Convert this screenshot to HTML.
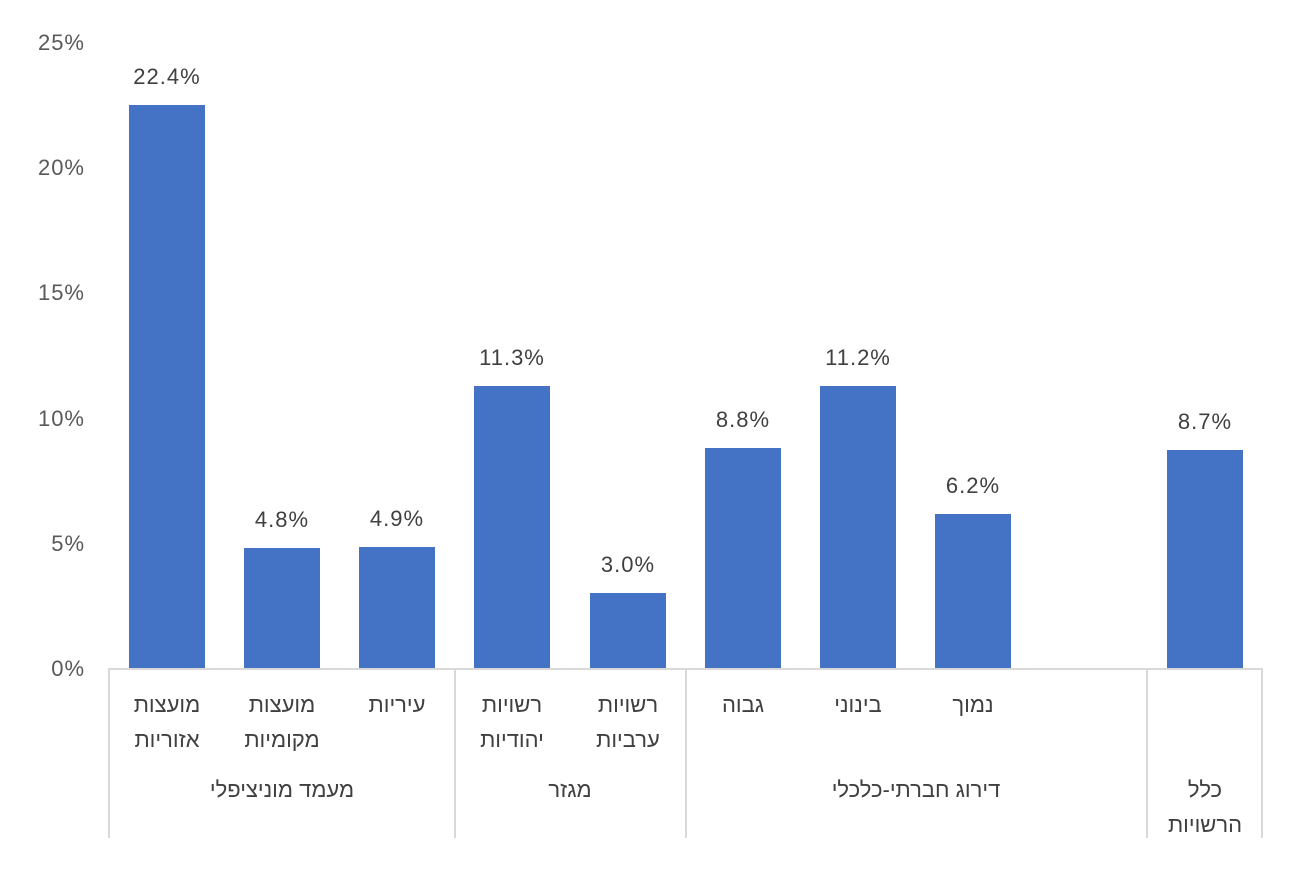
<!DOCTYPE html>
<html><head><meta charset="utf-8"><style>
body{margin:0;background:#fff;}
svg text{font-family:"Liberation Sans","DejaVu Sans",sans-serif;fill:#404040;font-size:22px;}
.n{letter-spacing:1px;}
.t{fill:#595959;}
</style></head><body>
<svg width="1290" height="871" xmlns="http://www.w3.org/2000/svg">
<g text-anchor="end">
<text x="85" y="676" class="t n">0%</text>
<text x="85" y="551" class="t n">5%</text>
<text x="85" y="426" class="t n">10%</text>
<text x="85" y="300" class="t n">15%</text>
<text x="85" y="175" class="t n">20%</text>
<text x="85" y="50" class="t n">25%</text>
</g>
<g fill="#4472c4">
<rect x="129" y="105" width="76" height="563"/>
<rect x="244" y="548" width="76" height="120"/>
<rect x="359" y="547" width="76" height="121"/>
<rect x="474" y="386" width="76" height="282"/>
<rect x="590" y="593" width="76" height="75"/>
<rect x="705" y="448" width="76" height="220"/>
<rect x="820" y="386" width="76" height="282"/>
<rect x="935" y="514" width="76" height="154"/>
<rect x="1167" y="450" width="76" height="218"/>
</g>
<g text-anchor="middle" class="n">
<text x="167" y="84" class="n">22.4%</text>
<text x="282" y="527" class="n">4.8%</text>
<text x="397" y="526" class="n">4.9%</text>
<text x="512" y="365" class="n">11.3%</text>
<text x="628" y="572" class="n">3.0%</text>
<text x="743" y="427" class="n">8.8%</text>
<text x="858" y="365" class="n">11.2%</text>
<text x="973" y="493" class="n">6.2%</text>
<text x="1205" y="429" class="n">8.7%</text>
</g>
<g stroke="#d9d9d9" stroke-width="2">
<line x1="109" y1="669" x2="1263" y2="669"/>
<line x1="109" y1="668" x2="109" y2="838"/>
<line x1="455" y1="668" x2="455" y2="838"/>
<line x1="686" y1="668" x2="686" y2="838"/>
<line x1="1147" y1="668" x2="1147" y2="838"/>
<line x1="1262" y1="668" x2="1262" y2="838"/>
</g>
<g text-anchor="middle" direction="rtl">
<text x="167" y="712">מועצות</text><text x="167" y="747">אזוריות</text>
<text x="282" y="712">מועצות</text><text x="282" y="747">מקומיות</text>
<text x="397" y="712">עיריות</text>
<text x="512" y="712">רשויות</text><text x="512" y="747">יהודיות</text>
<text x="628" y="712">רשויות</text><text x="628" y="747">ערביות</text>
<text x="743" y="712">גבוה</text>
<text x="858" y="712">בינוני</text>
<text x="973" y="712">נמוך</text>
<text x="282" y="797">מעמד מוניציפלי</text>
<text x="570" y="797">מגזר</text>
<text x="916" y="797">דירוג חברתי-כלכלי</text>
<text x="1205" y="797">כלל</text><text x="1205" y="832">הרשויות</text>
</g>
</svg>
</body></html>
